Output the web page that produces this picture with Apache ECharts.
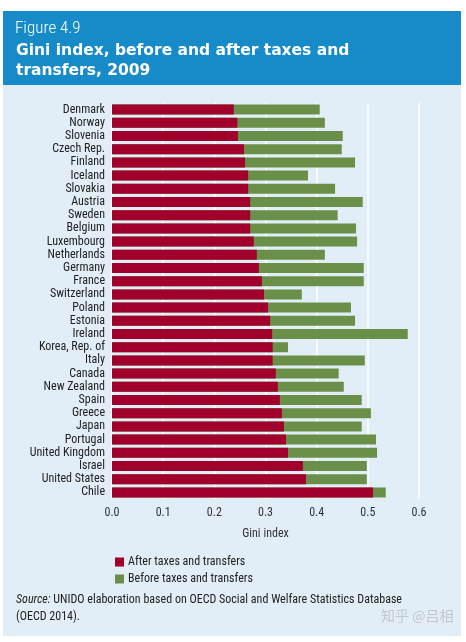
<!DOCTYPE html>
<html>
<head>
<meta charset="utf-8">
<script src="https://cdn.jsdelivr.net/npm/echarts@6/dist/echarts.min.js"></script>
<style>
html,body{margin:0;padding:0;background:#fff;}
#c{width:466px;height:642px;}
</style>
</head>
<body>
<div id="c"></div>
<script>
var countries = ['Denmark','Norway','Slovenia','Czech Rep.','Finland','Iceland','Slovakia','Austria','Sweden','Belgium','Luxembourg','Netherlands','Germany','France','Switzerland','Poland','Estonia','Ireland','Korea, Rep. of','Italy','Canada','New Zealand','Spain','Greece','Japan','Portugal','United Kingdom','Israel','United States','Chile'];
var afterTaxes = [0.238,0.245,0.246,0.258,0.260,0.266,0.266,0.270,0.270,0.270,0.277,0.283,0.287,0.293,0.297,0.305,0.309,0.313,0.314,0.314,0.320,0.324,0.328,0.332,0.336,0.340,0.344,0.373,0.379,0.510];
var beforeTaxes = [0.406,0.416,0.451,0.449,0.475,0.383,0.436,0.490,0.441,0.477,0.479,0.416,0.492,0.492,0.371,0.467,0.475,0.578,0.344,0.494,0.443,0.453,0.488,0.506,0.488,0.516,0.518,0.498,0.498,0.535];
var xTicks = ['0.0','0.1','0.2','0.3','0.4','0.5','0.6'];

var FONT = "'Roboto Condensed',sans-serif";
var chart = echarts.init(document.getElementById('c'), null, {renderer:'canvas'});
chart.setOption({
  animation:false,
  backgroundColor:'#ffffff',
  graphic:[
    {type:'rect', z:-10, shape:{x:3,y:11,width:458,height:625}, style:{fill:'#e2eef7'}},
    {type:'rect', z:-9, shape:{x:3,y:11,width:458,height:74}, style:{fill:'#168bc8'}},
    {type:'text', left:15, top:20, style:{text:'Figure 4.9', fill:'#ffffff', font:"300 17px 'Roboto Condensed',sans-serif"}},
    {type:'text', left:16, top:41, style:{text:'Gini index, before and after taxes and\ntransfers, 2009', fill:'#ffffff', font:"bold 15.5px 'DejaVu Sans',sans-serif", lineHeight:20}},
    {type:'text', left:16, top:591, style:{
      text:'{i|Source:} UNIDO elaboration based on OECD Social and Welfare Statistics Database\n(OECD 2014).',
      fill:'#222', font:"12px "+FONT, lineHeight:17,
      rich:{i:{fontStyle:'italic', fontFamily:FONT, fontSize:12, fill:'#222'}}
    }},
    {type:'text', left:381, top:609, style:{text:'知乎 @吕相', fill:'#c2c8cc', font:"14px 'Noto Sans CJK SC',sans-serif"}}
  ],
  grid:{left:112, right:47, top:103, height:396, containLabel:false},
  xAxis:{
    type:'value', min:0, max:0.6, interval:0.1,
    axisLine:{show:false}, axisTick:{show:false},
    splitLine:{show:true, lineStyle:{color:'#ffffff', width:1.5}},
    axisLabel:{color:'#333', fontFamily:FONT, fontSize:12, margin:8,
      formatter:function(v){ return xTicks[Math.round(v*10)]; }},
    name:'Gini index', nameLocation:'middle', nameGap:29,
    nameTextStyle:{color:'#333', fontFamily:FONT, fontSize:12}
  },
  yAxis:{
    type:'category', data:countries, inverse:true,
    axisLine:{show:false}, axisTick:{show:false},
    axisLabel:{color:'#222', fontFamily:FONT, fontSize:12, margin:7, interval:0}
  },
  legend:{
    orient:'vertical', left:110, top:551, itemWidth:9, itemHeight:9, itemGap:5,
    icon:'rect',
    data:['After taxes and transfers','Before taxes and transfers'],
    textStyle:{color:'#222', fontFamily:FONT, fontSize:12, padding:[0,0,0,-1]}
  },
  series:[
    {name:'Before taxes and transfers', type:'bar', data:beforeTaxes, barCategoryGap:'24%', barGap:'-100%',
      itemStyle:{color:'#6a8f48'}, z:2},
    {name:'After taxes and transfers', type:'bar', data:afterTaxes, barCategoryGap:'24%', barGap:'-100%',
      itemStyle:{color:'#a0002b'}, z:3}
  ]
});
</script>
</body>
</html>
